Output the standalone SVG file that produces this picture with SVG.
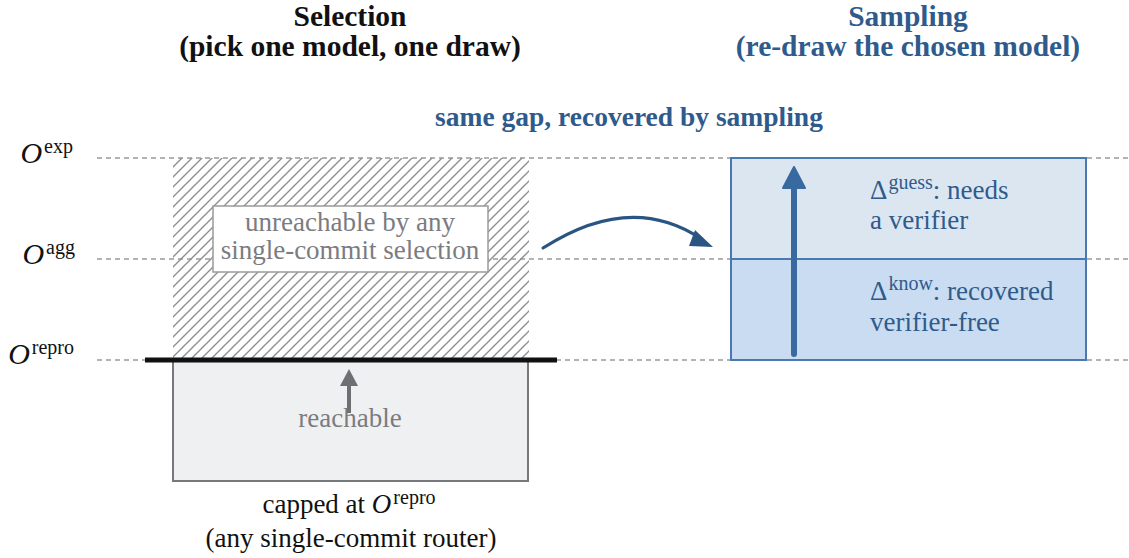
<svg xmlns="http://www.w3.org/2000/svg" width="1129" height="558" viewBox="0 0 1129 558" font-family="Liberation Serif, Times New Roman, serif">
<style>
text{font-family:"Liberation Serif","Times New Roman",serif}
.title{font-size:29.5px;font-weight:bold;text-anchor:middle;fill:#111}
.blue{fill:#2f5b8c}
.lvl{font-size:30px;text-anchor:end;fill:#111}
.sup{font-size:20px}
.dash{stroke:#9a9a9a;stroke-width:1.3;stroke-dasharray:5,4;fill:none}
.gt{font-size:27px;fill:#7b7c80;text-anchor:middle}
.bt{font-size:27px;fill:#2f5b8c}
.cap{font-size:27px;fill:#111;text-anchor:middle}
</style>
<defs>
<pattern id="hatch" patternUnits="userSpaceOnUse" width="10" height="10">
<path d="M-1,1 l2,-2 M0,10 l10,-10 M9,11 l2,-2" stroke="#8e8e8e" stroke-width="1.4"/>
</pattern>
</defs>

<g id="titles">
<text class="title" x="350" y="26">Selection</text>
<text class="title" x="350" y="56">(pick one model, one draw)</text>
<text class="title blue" x="908" y="26">Sampling</text>
<text class="title blue" x="908" y="56">(re-draw the chosen model)</text>
<text class="title blue" x="629" y="126" style="font-size:27.5px">same gap, recovered by sampling</text>
</g>

<g id="levels">
<line class="dash" x1="97" y1="158" x2="1129" y2="158"/>
<line class="dash" x1="97" y1="259" x2="1129" y2="259"/>
<line class="dash" x1="97" y1="360" x2="1129" y2="360"/>
<text class="lvl" x="73" y="163"><tspan font-style="italic">O</tspan><tspan class="sup" dx="2" dy="-10">exp</tspan></text>
<text class="lvl" x="75" y="264"><tspan font-style="italic">O</tspan><tspan class="sup" dx="2" dy="-10">agg</tspan></text>
<text class="lvl" x="74" y="364"><tspan font-style="italic">O</tspan><tspan class="sup" dx="2" dy="-10">repro</tspan></text>
</g>

<g id="unreachable">
<rect x="173" y="158" width="356" height="202" fill="url(#hatch)"/>
<rect x="213" y="206" width="275" height="66" fill="#fff" stroke="#9a9a9a" stroke-width="1.5"/>
<text class="gt" x="350" y="231">unreachable by any</text>
<text class="gt" x="350" y="259">single-commit selection</text>
</g>

<g id="reachable">
<rect x="173" y="360" width="355" height="121" fill="#eff0f2" stroke="#77787c" stroke-width="2"/>
<text class="gt" x="350" y="427">reachable</text>
<text class="cap" x="349" y="513">capped at <tspan font-style="italic">O</tspan><tspan class="sup" dx="2" dy="-9">repro</tspan></text>
<text class="cap" x="351" y="547">(any single-commit router)</text>
</g>

<g id="cap-line">
<line x1="145" y1="360" x2="557" y2="360" stroke="#111" stroke-width="5"/>
</g>

<g id="sampling">
<rect x="731" y="158" width="355" height="101" fill="#dce6f1" stroke="#4a78b0" stroke-width="2"/>
<rect x="731" y="259" width="355" height="101" fill="#c9dcf1" stroke="#4a78b0" stroke-width="2"/>
<text class="bt" x="870" y="199">Δ<tspan class="sup" dx="1" dy="-10">guess</tspan><tspan dy="10">: needs</tspan></text>
<text class="bt" x="870" y="229">a verifier</text>
<text class="bt" x="870" y="300">Δ<tspan class="sup" dx="1" dy="-10">know</tspan><tspan dy="10">: recovered</tspan></text>
<text class="bt" x="870" y="331">verifier-free</text>
</g>

<g id="connectors">
<line x1="349" y1="413" x2="349" y2="384" stroke="#6e6f73" stroke-width="4"/>
<path d="M340,386 L349,369 L358,386 z" fill="#6e6f73"/>
<line x1="794" y1="354" x2="794" y2="185" stroke="#386a9f" stroke-width="6" stroke-linecap="round"/>
<path d="M783,188 L794,167 L805,188 z" fill="#386a9f" stroke="#386a9f" stroke-width="2" stroke-linejoin="round"/>
<path d="M543,248 Q630,192 700,238" fill="none" stroke="#2a5582" stroke-width="3.2" stroke-linecap="round"/>
<path d="M695,230 L713,247 L689,246 z" fill="#2a5582"/>
</g>
</svg>
